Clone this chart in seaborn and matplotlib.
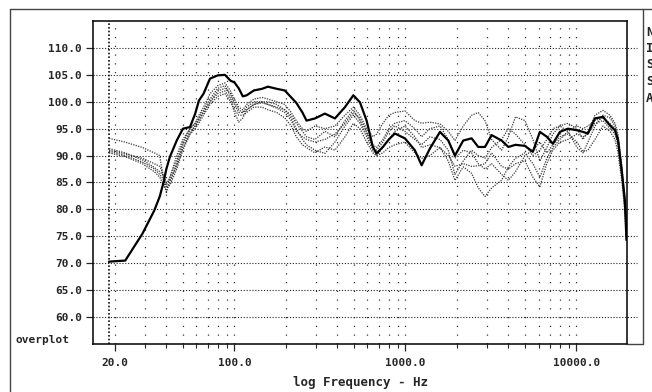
import numpy as np
import pandas as pd
import matplotlib
matplotlib.use("Agg")
import matplotlib.pyplot as plt
from matplotlib.lines import Line2D
import seaborn as sns

# --- data (Hz, dB) ---
freq = [18.5, 23, 29, 34, 36.6, 38.5, 40, 42, 46, 50,
        55, 59, 62, 66, 72, 80, 88, 95, 100, 106,
        112, 118, 130, 145, 157, 177, 197, 215, 230, 250,
        264, 296, 338, 387, 443, 496, 542, 593, 645, 678,
        738, 800, 867, 993, 1135, 1244, 1390, 1592, 1780, 1948,
        2178, 2438, 2666, 2918, 3192, 3650, 4000, 4400, 5000, 5560,
        6110, 6716, 7280, 8000, 8920, 10070, 10920, 11670, 12830, 14290,
        15700, 16790, 17500, 18460, 19200, 19600]

main = [70.3, 70.5, 75.5, 79.8, 82.4, 85.0, 87.5, 89.8, 92.8, 95.0,
        95.3, 97.8, 100.2, 101.5, 104.3, 104.9, 105.0, 103.9, 103.6, 102.5,
        101.0, 101.2, 102.1, 102.4, 102.8, 102.4, 102.1, 100.8, 99.8, 98.0,
        96.5, 96.9, 97.8, 96.9, 99.0, 101.2, 99.9, 96.5, 91.6, 90.4,
        91.6, 93.0, 94.1, 93.2, 91.0, 88.2, 91.3, 94.4, 92.8, 90.0,
        92.8, 93.2, 91.6, 91.6, 93.8, 92.8, 91.6, 92.0, 91.8, 90.7,
        94.4, 93.5, 92.2, 94.4, 95.0, 94.7, 94.4, 94.1, 96.9, 97.2,
        95.6, 94.7, 92.8, 86.7, 81.7, 74.3]

over1 = [93.2, 92.5, 91.5, 90.5, 90.0, 85.5, 83.0, 86.0, 90.0, 93.0,
         95.0, 96.0, 97.5, 99.0, 101.5, 103.0, 103.5, 102.0, 100.5, 99.0,
         98.5, 99.5, 100.5, 100.8, 100.5, 100.0, 99.5, 98.0, 96.5, 95.0,
         94.5, 95.5, 95.0, 95.5, 97.5, 99.0, 97.5, 95.0, 93.5, 94.0,
         96.0, 97.5, 98.0, 98.3, 96.5, 96.0, 96.2, 95.9, 94.5, 92.8,
         95.5, 97.5, 98.0, 96.5, 93.0, 91.0, 93.5, 97.2, 96.5, 93.0,
         89.0, 91.5, 94.0, 95.5, 96.0, 95.0, 93.0, 94.5, 97.5, 98.4,
         97.5, 96.0, 94.0, 88.0, 82.0, 76.0]

over2 = [91.3, 90.5, 89.2, 87.8, 87.0, 86.3, 84.0, 84.5, 87.5, 91.0,
         94.0, 95.5, 96.5, 98.0, 100.0, 101.5, 102.0, 100.5, 98.0, 96.2,
         97.0, 98.5, 99.5, 99.8, 99.5, 99.0, 98.5, 97.0, 95.0, 93.0,
         92.0, 91.0, 90.4, 92.5, 95.5, 97.5, 96.0, 93.5, 91.0, 90.0,
         91.5, 93.0, 94.5, 95.5, 93.5, 91.5, 92.0, 91.5, 89.0, 85.4,
         87.9, 86.7, 84.0, 82.4, 84.0, 85.4, 87.9, 89.5, 90.5, 88.5,
         86.0, 89.5, 91.5, 93.0, 94.5, 95.5, 95.0, 95.5, 96.5, 97.0,
         96.0, 95.0, 93.5, 87.5, 80.5, 75.5]

over3 = [90.8, 90.0, 88.8, 87.5, 86.5, 85.5, 84.5, 86.0, 89.0, 92.5,
         95.0, 96.0, 97.0, 98.5, 100.5, 102.5, 103.0, 101.0, 99.5, 98.0,
         98.0, 99.0, 100.0, 100.0, 99.5, 98.8, 98.0, 96.5, 94.5, 93.5,
         93.0, 92.5, 93.0, 94.0, 96.0, 98.0, 97.0, 94.5, 92.0, 91.5,
         93.0, 95.0, 96.0, 96.5, 95.0, 93.5, 95.0, 95.5, 93.0, 89.5,
         91.0, 90.5, 88.5, 87.5, 88.5, 86.5, 85.4, 87.0, 90.0, 91.0,
         92.5, 90.5, 92.0, 93.5, 94.0, 92.5, 90.7, 91.0, 93.0, 95.5,
         94.5, 93.0, 90.5, 85.0, 80.0, 77.0]

over4 = [91.0, 90.3, 89.5, 88.5, 88.0, 86.5, 85.0, 85.5, 88.0, 91.5,
         94.0, 95.0, 96.0, 97.5, 99.5, 101.0, 101.5, 100.0, 98.5, 97.5,
         97.5, 98.0, 99.0, 99.0, 98.5, 98.0, 97.0, 95.5, 93.5, 92.0,
         91.5, 90.5, 91.6, 91.0, 93.5, 96.0, 95.0, 92.5, 90.5, 90.0,
         90.5, 91.5, 92.0, 92.5, 90.5, 89.5, 90.0, 91.5, 90.0, 88.0,
         88.5, 88.0, 88.1, 88.5, 90.5, 88.0, 87.5, 88.5, 89.0, 86.0,
         84.2, 88.6, 91.0, 92.5, 93.0, 94.0, 93.5, 94.0, 96.0, 96.5,
         95.0, 94.0, 92.0, 86.0, 79.0, 75.0]

over5 = [90.5, 89.8, 88.5, 87.0, 86.0, 84.5, 83.5, 85.0, 88.5, 92.0,
         94.5, 95.5, 96.8, 98.0, 100.0, 102.0, 102.5, 101.5, 100.0, 98.5,
         98.0, 98.5, 99.5, 100.0, 100.0, 99.5, 98.5, 97.5, 96.0, 94.5,
         93.5, 93.0, 94.5, 93.5, 96.5, 98.5, 96.5, 94.0, 91.5, 91.0,
         92.5, 94.5, 95.5, 94.5, 93.0, 92.0, 93.5, 93.0, 91.0, 86.5,
         89.0, 91.0, 90.0, 89.5, 91.5, 93.0, 95.0, 94.0, 92.0, 90.0,
         91.0, 93.0, 95.0, 95.5, 94.5, 91.5, 90.5, 92.5, 95.5, 97.5,
         97.0, 95.5, 93.0, 87.0, 81.0, 76.5]

y_ticks = [60, 65, 70, 75, 80, 85, 90, 95, 100, 105, 110]
x_major = [20, 100, 1000, 10000]
x_minor = [30, 40, 50, 60, 70, 80, 90, 200, 300, 400, 500, 600, 700, 800, 900,
           2000, 3000, 4000, 5000, 6000, 7000, 8000, 9000]
start_line = 18.5

sns.set_style("white")
plt.rcParams['font.family'] = ['DejaVu Sans Mono', 'DejaVu Sans']
plt.rcParams['font.weight'] = 'bold'

fig = plt.figure(figsize=(6.52, 3.92), dpi=100)
ax = fig.add_axes([93 / 652, 48 / 392, 534 / 652, 323 / 392])

# grid
for v in y_ticks:
    ax.axhline(v, xmin=0, xmax=1.018, color='#222222', lw=0.8,
               ls=(0, (1, 1.6)), clip_on=False, zorder=1)
for f in x_major + x_minor:
    ax.axvline(f, color='#333333', lw=0.9, ls=(0, (1, 6)), zorder=1)
ax.axvline(start_line, color='#111111', lw=1.2, ls=(0, (1, 1.2)), zorder=1)

# overplotted curves
for vals in [over1, over2, over3, over4, over5]:
    sns.lineplot(x=freq, y=vals, ax=ax, color='#3a3a3a', lw=0.9,
                 linestyle=(0, (1, 1)), zorder=2)
sns.lineplot(x=freq, y=main, ax=ax, color='black', lw=1.6, zorder=3)

ax.set_xscale('log')
ax.set_xlim(14.9, 19750)
ax.set_ylim(55, 115)

ax.set_yticks(y_ticks)
ax.set_yticklabels([f"{v:.1f}" for v in y_ticks])
ax.set_xticks(x_major)
ax.set_xticklabels([f"{v:.1f}" for v in x_major])
ax.set_xticks(x_minor, minor=True)
ax.xaxis.set_minor_formatter(matplotlib.ticker.NullFormatter())
ax.tick_params(axis='y', which='major', direction='out', length=5, width=0.9,
               pad=3, labelsize=8, left=True)
ax.tick_params(axis='x', which='major', direction='out', length=5, width=0.9,
               pad=5, labelsize=8, bottom=True)
ax.tick_params(axis='x', which='minor', direction='out', length=3, width=0.8,
               bottom=True)
for lab in ax.get_xticklabels() + ax.get_yticklabels():
    lab.set_fontweight('bold')

for s in ax.spines.values():
    s.set_color('black')
    s.set_linewidth(1.1)

ax.set_xlabel("log Frequency - Hz", fontsize=9, fontweight='bold', labelpad=6)
ax.set_ylabel("")

fig.text(15 / 652, 1 - 340 / 392, "overplot", fontsize=8, fontweight='bold',
         ha='left', va='center')
fig.text(646 / 652, 1 - 65 / 392, "N\nI\nS\nS\nA", fontsize=9,
         fontweight='bold', ha='left', va='center', linespacing=1.35)

# outer frame
def fl(x0, y0, x1, y1):
    fig.add_artist(Line2D([x0 / 652, x1 / 652], [1 - y0 / 392, 1 - y1 / 392],
                          color='#444444', lw=1.0))

fl(10, 9, 652, 9)
fl(10, 9, 10, 392)
fl(643, 9, 643, 344)
fl(627, 344, 643, 344)

fig.savefig("out.png", dpi=100)
